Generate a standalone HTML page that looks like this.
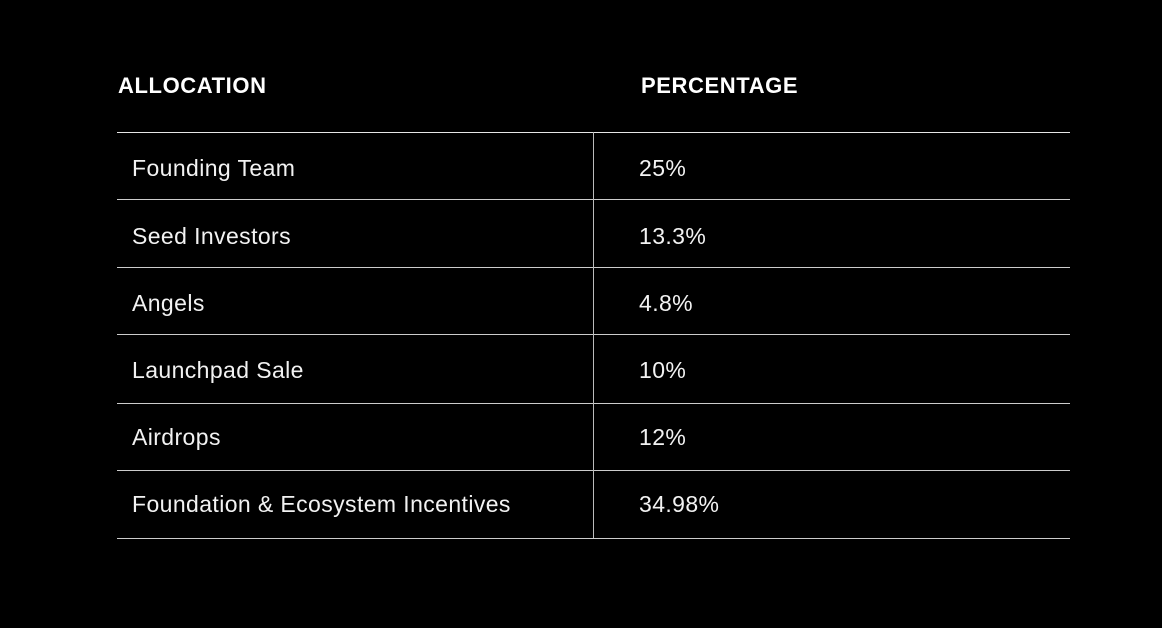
<!DOCTYPE html>
<html><head><style>
body{margin:0;background:#000;width:1162px;height:628px;position:relative;overflow:hidden;font-family:"Liberation Sans",sans-serif;color:#fff}
.t{position:absolute;white-space:nowrap}
.h{font-size:22px;font-weight:bold;top:73px;letter-spacing:0.6px}
.r{font-size:23px;color:#f2f2f2;letter-spacing:0.4px}
.hl{position:absolute;left:117px;width:953px;height:1px;background:#ccc}
.vl{position:absolute;left:593px;top:132px;width:1px;height:406px;background:#bbb}
</style></head><body>
<div class="t h" style="left:118px">ALLOCATION</div>
<div class="t h" style="left:641px">PERCENTAGE</div>
<div class="hl" style="top:132px;background:#e6e6e6"></div>
<div class="hl" style="top:199px"></div>
<div class="hl" style="top:267px"></div>
<div class="hl" style="top:334px"></div>
<div class="hl" style="top:403px"></div>
<div class="hl" style="top:470px"></div>
<div class="hl" style="top:538px"></div>
<div class="vl"></div>
<div class="t r" style="left:132px;top:155px">Founding Team</div><div class="t r" style="left:639px;top:155px">25%</div>
<div class="t r" style="left:132px;top:223px">Seed Investors</div><div class="t r" style="left:639px;top:223px">13.3%</div>
<div class="t r" style="left:132px;top:290px">Angels</div><div class="t r" style="left:639px;top:290px">4.8%</div>
<div class="t r" style="left:132px;top:357px">Launchpad Sale</div><div class="t r" style="left:639px;top:357px">10%</div>
<div class="t r" style="left:132px;top:424px">Airdrops</div><div class="t r" style="left:639px;top:424px">12%</div>
<div class="t r" style="left:132px;top:491px">Foundation &amp; Ecosystem Incentives</div><div class="t r" style="left:639px;top:491px">34.98%</div>
</body></html>
